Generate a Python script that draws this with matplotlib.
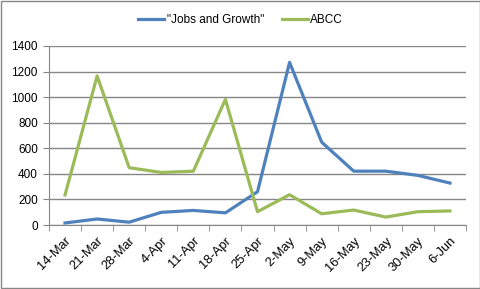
import matplotlib.pyplot as plt
import numpy as np
from matplotlib.patches import Rectangle

dates = ['14-Mar', '21-Mar', '28-Mar', '4-Apr', '11-Apr', '18-Apr', '25-Apr',
         '2-May', '9-May', '16-May', '23-May', '30-May', '6-Jun']
jobs = [16, 47, 22, 99, 114, 95, 260, 1272, 648, 421, 421, 388, 328]
abcc = [235, 1166, 448, 411, 421, 983, 104, 237, 88, 117, 62, 104, 110]

plt.rcParams['font.family'] = ['Liberation Sans', 'DejaVu Sans']

fig = plt.figure(figsize=(4.81, 2.89), dpi=100)
fig.patches.append(Rectangle((0.002, 0.003), 0.995, 0.994, transform=fig.transFigure,
                             fill=False, edgecolor='#868686', linewidth=1))
ax = fig.add_axes([49 / 481, 1 - 225 / 289, (466 - 49) / 481, (225 - 46) / 289])

x = np.arange(len(dates))
ax.plot(x, jobs, color='#4F81BD', linewidth=2.3, label='"Jobs and Growth"')
ax.plot(x, abcc, color='#9BBB59', linewidth=2.3, label='ABCC')

ax.set_xlim(-0.5, len(dates) - 0.5)
ax.set_ylim(0, 1400)
ax.set_yticks(range(0, 1401, 200))
ax.yaxis.grid(True, color='#868686', linewidth=1)
ax.set_axisbelow(True)

for s in ['top', 'right']:
    ax.spines[s].set_visible(False)
for s in ['left', 'bottom']:
    ax.spines[s].set_color('#868686')
ax.tick_params(axis='y', length=4, color='#868686', labelsize=8.5, pad=4)

ax.set_xticks(x)
ax.set_xticklabels(dates, rotation=45, ha='right', rotation_mode='anchor', fontsize=9.3)
ax.tick_params(axis='x', which='major', length=0, pad=7)
ax.set_xticks(np.arange(-0.5, len(dates), 1), minor=True)
ax.tick_params(axis='x', which='minor', length=4, color='#868686')

fig.legend(loc='center', bbox_to_anchor=(0.5, 1 - 20 / 289), ncol=2, frameon=False,
           fontsize=8.5, handlelength=2.2, columnspacing=1.5, handletextpad=0.2)

fig.savefig('out.png', dpi=100)
